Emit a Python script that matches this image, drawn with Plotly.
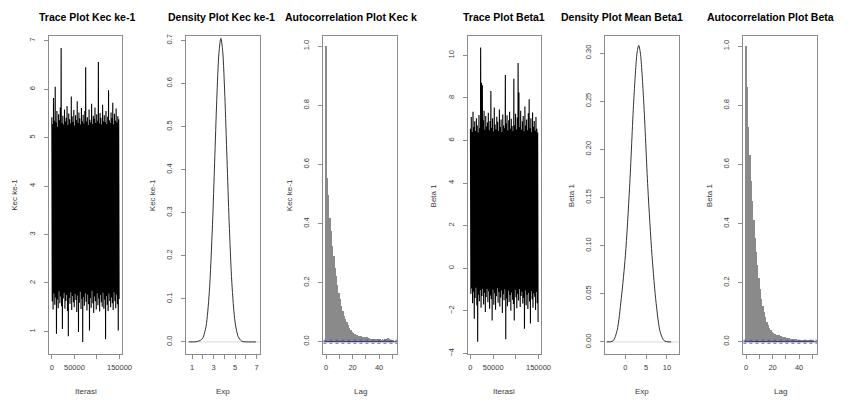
import numpy as np
import plotly.graph_objects as go

# ---------------- data ----------------
trace_iter_step = 1875  # iterations between successive envelope readings

kec_trace_high = [5.42, 5.28, 5.82, 5.35, 6.05, 5.31, 5.55, 5.22, 5.48, 5.36,
                  5.62, 6.85, 5.30, 5.45, 5.27, 5.58, 5.33, 5.41, 5.65, 5.26,
                  5.50, 5.38, 5.29, 5.85, 5.44, 5.32, 5.57, 5.25, 5.46, 5.36,
                  5.75, 5.30, 5.52, 5.40, 5.27, 5.61, 5.34, 5.47, 5.29, 5.55,
                  6.45, 5.33, 5.42, 5.26, 5.58, 5.37, 5.31, 5.70, 5.28, 5.45,
                  5.39, 5.62, 5.30, 5.48, 5.35, 6.56, 5.29, 5.51, 5.41, 5.27,
                  5.68, 5.34, 5.46, 5.32, 5.55, 5.28, 5.43, 5.98, 5.36, 5.30,
                  5.52, 5.40, 5.72, 5.27, 5.49, 5.35, 5.60, 5.31, 5.44, 5.38]
kec_trace_low = [1.62, 1.45, 1.78, 1.55, 1.70, 0.95, 1.66, 1.48, 1.83, 1.58,
                 1.72, 1.52, 1.05, 1.68, 1.80, 1.47, 1.63, 1.75, 1.42, 0.90,
                 1.69, 1.57, 1.81, 1.44, 1.73, 1.60, 1.50, 1.77, 1.65, 1.40,
                 1.74, 0.99, 1.59, 1.82, 1.46, 1.67, 0.78, 1.71, 1.53, 1.79,
                 1.61, 1.43, 1.76, 1.56, 1.02, 1.69, 1.49, 1.84, 1.58, 1.38,
                 1.72, 1.62, 1.45, 1.79, 1.54, 1.68, 1.41, 1.75, 1.60, 1.51,
                 1.80, 1.47, 1.66, 0.84, 1.73, 1.55, 1.42, 1.78, 1.63, 1.50,
                 1.70, 1.58, 1.44, 1.81, 1.62, 1.48, 1.76, 1.56, 1.02, 1.67]

beta_trace_high = [6.55, 7.10, 6.40, 7.35, 6.62, 6.90, 6.45, 7.05, 6.70, 6.38,
                   7.20, 6.58, 10.37, 8.71, 8.60, 6.95, 7.40, 6.50, 7.15, 6.66,
                   6.85, 7.30, 6.48, 6.92, 8.33, 6.60, 7.05, 6.42, 7.55, 6.75,
                   6.52, 7.12, 6.88, 6.45, 7.45, 6.63, 6.98, 6.40, 7.22, 6.70,
                   6.58, 9.07, 6.80, 7.18, 6.47, 6.95, 7.35, 6.55, 7.02, 6.68,
                   6.44, 8.90, 6.72, 7.25, 6.52, 7.08, 9.64, 8.25, 6.62, 7.40,
                   6.50, 6.90, 7.15, 6.43, 7.60, 6.70, 6.98, 6.48, 7.28, 7.94,
                   6.57, 7.05, 6.40, 7.32, 6.65, 6.92, 6.46, 7.10, 6.55, 6.38]
beta_trace_low = [-1.20, -0.95, -1.65, -1.10, -2.37, -1.40, -0.92, -1.75, -3.45, -1.25,
                  -1.55, -1.02, -1.85, -1.30, -0.98, -1.70, -1.15, -2.05, -1.35, -0.96,
                  -1.60, -1.08, -1.90, -1.28, -1.45, -2.45, -1.00, -1.72, -1.18, -1.95,
                  -1.32, -0.94, -1.62, -1.12, -1.80, -1.38, -1.05, -2.10, -1.22, -1.50,
                  -0.99, -3.33, -1.42, -1.78, -1.06, -1.58, -1.26, -2.00, -1.14, -1.48,
                  -1.68, -2.45, -1.02, -1.36, -1.88, -1.20, -1.52, -0.97, -1.82, -1.30,
                  -1.10, -1.66, -1.40, -2.84, -1.04, -1.74, -1.24, -1.92, -1.16, -1.56,
                  -2.60, -1.08, -1.46, -1.86, -1.18, -1.34, -1.96, -1.12, -1.64, -2.53]

kec_density_x = [0.70, 1.20, 1.50, 1.80, 2.00, 2.30, 2.60, 2.90, 3.10, 3.30, 3.50, 3.68,
                 3.85, 4.05, 4.25, 4.45, 4.70, 5.00, 5.30, 5.60, 6.00, 6.50, 6.94]
kec_density_y = [0.000, 0.000, 0.001, 0.004, 0.009, 0.036, 0.114, 0.272, 0.417, 0.563, 0.671, 0.705,
                 0.675, 0.570, 0.425, 0.279, 0.138, 0.046, 0.012, 0.002, 0.000, 0.000, 0.000]

beta_density_x = [-4.5, -3.0, -2.0, -1.0, 0.0, 1.0, 2.0, 2.8, 3.2, 3.6, 4.4, 5.4, 6.4, 7.4, 8.4, 9.4, 11.0]
beta_density_y = [0.000, 0.001, 0.012, 0.045, 0.090, 0.160, 0.250, 0.300, 0.308, 0.300, 0.250, 0.160,
                  0.090, 0.040, 0.010, 0.001, 0.000]

lags = list(range(52))
kec_acf = [1.0, 0.555, 0.495, 0.418, 0.375, 0.322, 0.288, 0.250, 0.222, 0.193, 0.166, 0.143, 0.121,
           0.104, 0.088, 0.076, 0.065, 0.055, 0.046, 0.039, 0.033, 0.029, 0.025, 0.022, 0.021, 0.020,
           0.019, 0.018, 0.017, 0.016, 0.015, 0.014, 0.012, 0.011, 0.010, 0.010, 0.009, 0.009, 0.008,
           0.008, 0.009, 0.008, 0.007, 0.008, 0.007, 0.008, 0.009, 0.011, 0.008, 0.006, 0.007, 0.006]
beta_acf = [1.0, 0.860, 0.725, 0.630, 0.543, 0.475, 0.410, 0.350, 0.303, 0.260, 0.215, 0.178, 0.145,
            0.120, 0.099, 0.082, 0.067, 0.055, 0.046, 0.039, 0.034, 0.029, 0.026, 0.024, 0.022, 0.021,
            0.019, 0.018, 0.016, 0.015, 0.014, 0.013, 0.012, 0.011, 0.010, 0.009, 0.009, 0.008, 0.008,
            0.007, 0.007, 0.006, 0.006, 0.006, 0.005, 0.005, 0.005, 0.004, 0.005, 0.004, 0.004, 0.004]
acf_ci = 0.0051

titles = ["Trace Plot Kec ke-1", "Density Plot Kec ke-1", "Autocorrelation Plot Kec k",
          "Trace Plot Beta1", "Density Plot Mean Beta1", "Autocorrelation Plot Beta"]
ylabels = ["Kec ke-1", "Kec ke-1", "Kec ke-1", "Beta 1", "Beta 1", "Beta 1"]
xlabels = ["Iterasi", "Exp", "Lag", "Iterasi", "Exp", "Lag"]

iter_ticks = [0, 50000, 100000, 150000]
iter_ticktext = ["0", "50000", "", "150000"]

# ---------------- layout helpers ----------------
W, H = 848, 403
BOX_TOP, BOX_BOT = 34.5, 356.0
boxes = [(49.7, 123.7), (188.7, 263.1), (327.3, 401.7),
         (473.3, 547.7), (612.7, 687.1), (752.3, 826.7)]
title_left = [37, 168, 286, 467, 566, 713]


def interleave(hi, lo, step):
    xs, ys = [], []
    for i, (h, l) in enumerate(zip(hi, lo)):
        xs += [i * step, i * step + step / 2]
        ys += [h, l]
    return xs, ys


fig = go.Figure()
FONT = "Liberation Sans, Arial, sans-serif"
LINEC = "#8c8c8c"

# trace plots
for k, (hi, lo) in zip([1, 4], [(kec_trace_high, kec_trace_low), (beta_trace_high, beta_trace_low)]):
    xs, ys = interleave(hi, lo, trace_iter_step)
    fig.add_trace(go.Scatter(x=xs, y=ys, mode="lines",
                             line=dict(color="black", width=1.1, simplify=False),
                             xaxis=f"x{k}", yaxis=f"y{k}", showlegend=False, hoverinfo="skip"))

# density plots
for k, (dx, dy) in zip([2, 5], [(kec_density_x, kec_density_y), (beta_density_x, beta_density_y)]):
    fig.add_shape(type="line", xref=f"x{k} domain", x0=0, x1=1, yref=f"y{k}", y0=0, y1=0,
                  line=dict(color="#d9d9d9", width=1), layer="below")
    fig.add_trace(go.Scatter(x=dx, y=dy, mode="lines", line=dict(color="#333333", width=1, shape="spline",
                             smoothing=0.8), xaxis=f"x{k}", yaxis=f"y{k}", showlegend=False, hoverinfo="skip"))

# acf plots
for k, acf in zip([3, 6], [kec_acf, beta_acf]):
    fig.add_trace(go.Bar(x=lags, y=acf, width=0.55, marker=dict(color="#8a8a8a", line=dict(width=0)),
                         xaxis=f"x{k}", yaxis=f"y{k}", showlegend=False, hoverinfo="skip"))
    fig.add_shape(type="line", xref=f"x{k} domain", x0=0, x1=1, yref=f"y{k}", y0=0, y1=0,
                  line=dict(color="#333333", width=1))
    for c in (acf_ci, -acf_ci):
        fig.add_shape(type="line", xref=f"x{k} domain", x0=0, x1=1, yref=f"y{k}", y0=c, y1=c,
                      line=dict(color="rgba(70,70,235,0.85)", width=1, dash="dot"))

axis_common = dict(showline=True, mirror=True, linecolor=LINEC, linewidth=1, ticks="outside",
                   ticklen=4, tickcolor=LINEC, tickwidth=1, showgrid=False, zeroline=False,
                   tickfont=dict(family=FONT, size=7.5, color="#3a3a3a"))

x_specs = [
    dict(range=[-6000, 156000], tickvals=iter_ticks, ticktext=iter_ticktext),
    dict(range=[0.48, 7.32], tickvals=[1, 2, 3, 4, 5, 6, 7], ticktext=["1", "", "3", "", "5", "", "7"]),
    dict(range=[-2.04, 53.5], tickvals=[0, 10, 20, 30, 40, 50], ticktext=["0", "", "20", "", "40", ""]),
    dict(range=[-6000, 156000], tickvals=iter_ticks, ticktext=iter_ticktext),
    dict(range=[-4.8, 12.9], tickvals=[0, 5, 10], ticktext=["0", "5", "10"]),
    dict(range=[-2.04, 53.5], tickvals=[0, 10, 20, 30, 40, 50], ticktext=["0", "", "20", "", "40", ""]),
]
y_specs = [
    dict(range=[0.524, 7.094], tickvals=[1, 2, 3, 4, 5, 6, 7]),
    dict(range=[-0.0292, 0.7099], tickvals=[0, 0.1, 0.2, 0.3, 0.4, 0.5, 0.6, 0.7], tickformat=".1f"),
    dict(range=[-0.043, 1.034], tickvals=[0, 0.2, 0.4, 0.6, 0.8, 1.0], tickformat=".1f"),
    dict(range=[-4.05, 10.9], tickvals=[-4, -2, 0, 2, 4, 6, 8, 10]),
    dict(range=[-0.013, 0.3175], tickvals=[0, 0.05, 0.10, 0.15, 0.20, 0.25, 0.30], tickformat=".2f"),
    dict(range=[-0.043, 1.034], tickvals=[0, 0.2, 0.4, 0.6, 0.8, 1.0], tickformat=".1f"),
]

layout = {}
annotations = []
for i, ((l, r), xs, ys) in enumerate(zip(boxes, x_specs, y_specs)):
    k = i + 1
    layout[f"xaxis{k}"] = dict(domain=[l / W, r / W], anchor=f"y{k}", ticklabelstandoff=2,
                               **axis_common, **xs)
    layout[f"yaxis{k}"] = dict(domain=[1 - BOX_BOT / H, 1 - BOX_TOP / H], anchor=f"x{k}",
                               tickangle=-90, ticklabelstandoff=6, **axis_common, **ys)
    annotations.append(dict(text=f"<b>{titles[i]}</b>", x=title_left[i] / W, y=1 - 15 / H,
                            xref="paper", yref="paper", xanchor="left", yanchor="middle",
                            showarrow=False, font=dict(family=FONT, size=10.5, color="black")))
    annotations.append(dict(text=xlabels[i], x=(l + r) / 2 / W, y=1 - 393 / H, xref="paper", yref="paper",
                            xanchor="center", yanchor="middle", showarrow=False,
                            font=dict(family=FONT, size=8, color="#3a3a3a")))
    annotations.append(dict(text=ylabels[i], x=(l - 35) / W, y=1 - (BOX_TOP + BOX_BOT) / 2 / H,
                            xref="paper", yref="paper", xanchor="center", yanchor="middle",
                            textangle=-90, showarrow=False,
                            font=dict(family=FONT, size=8, color="#3a3a3a")))

fig.update_layout(width=W, height=H, margin=dict(l=0, r=0, t=0, b=0), paper_bgcolor="white",
                  plot_bgcolor="white", annotations=annotations, bargap=0, **layout)

fig.write_html("out.html", config={"displayModeBar": False},
               post_script="document.body.style.margin='0';document.body.style.overflow='hidden';")
